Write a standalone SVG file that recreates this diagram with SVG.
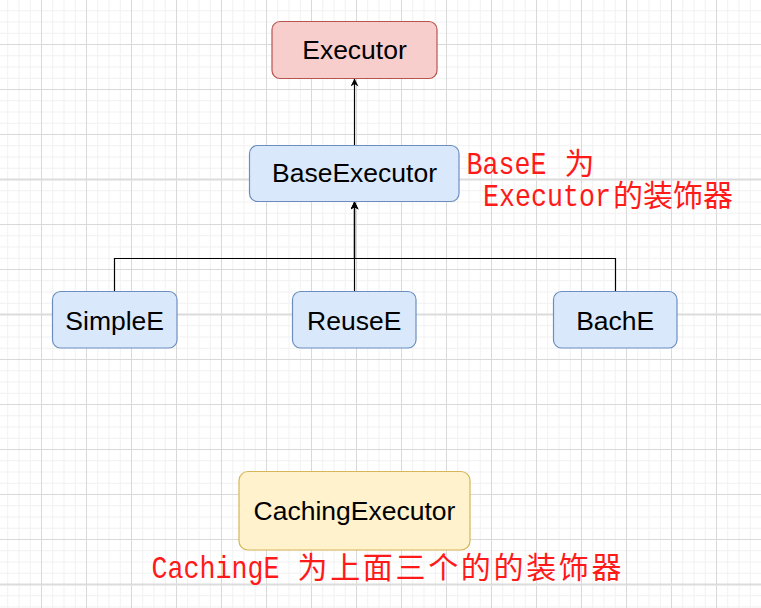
<svg xmlns="http://www.w3.org/2000/svg" width="761" height="608" viewBox="0 0 761 608">
  <style>
    .node rect { stroke-width: 1.2; }
    .blue { fill: #dae8fc; stroke: #6c8ebf; }
    .pink { fill: #f8cecc; stroke: #b85450; }
    .yellow { fill: #fff2cc; stroke: #d6b656; }
    .lbl { font-family: "Liberation Sans", Arial, sans-serif; font-size: 26.5px; fill: #000; text-anchor: middle; }
    .note { fill: #ff1a1a; }
    .mono { font-family: "Liberation Mono", "Courier New", monospace; font-size: 31px; }
    .cjk { font-family: "Noto Sans CJK SC", sans-serif; font-size: 30px; }
    .edge { fill: none; stroke: #000; stroke-width: 1.2; }
  </style>
  <defs>
    <pattern id="grid" patternUnits="userSpaceOnUse" x="41" y="44" width="45" height="45">
      <path d="M11.75 0V45M23 0V45M34.25 0V45M0 11.75H45M0 23H45M0 34.25H45" stroke="#f1f1f1" stroke-width="1" fill="none"/>
      <path d="M0.5 0V45M0 0.5H45" stroke="#d9d9d9" stroke-width="1" fill="none"/>
    </pattern>
    <marker id="arrow" viewBox="0 0 10 10" refX="10" refY="5" markerWidth="10" markerHeight="8" markerUnits="userSpaceOnUse" orient="auto">
      <path d="M10 5L0 0L3 5L0 10z" fill="#000"/>
    </marker>
  </defs>
  <rect width="761" height="608" fill="#fff"/>
  <rect width="761" height="608" fill="url(#grid)"/>
  <path d="M0 179.5H761M0 314.5H761M0 584.5H761" stroke="#dcdcdc" stroke-width="2" fill="none"/>

  <g id="connectors">
    <path class="edge" d="M354.5 145.5V78.5" marker-end="url(#arrow)"/>
    <path class="edge" d="M114.5 291.5V258.5H354.5V201.5" marker-end="url(#arrow)"/>
    <path class="edge" d="M354.5 291.5V201.5" marker-end="url(#arrow)"/>
    <path class="edge" d="M615.5 291.5V258.5H354.5V201.5" marker-end="url(#arrow)"/>
  </g>

  <g id="executor" class="node">
    <rect class="pink" x="272" y="21.5" width="165" height="57" rx="8"/>
    <text class="lbl" x="354.5" y="58.5">Executor</text>
  </g>
  <g id="base-executor" class="node">
    <rect class="blue" x="249.5" y="145.5" width="209.5" height="56" rx="8"/>
    <text class="lbl" x="354.5" y="182">BaseExecutor</text>
  </g>
  <g id="simple-e" class="node">
    <rect class="blue" x="52.5" y="291.5" width="124.5" height="56.5" rx="8"/>
    <text class="lbl" x="114.7" y="329.5">SimpleE</text>
  </g>
  <g id="reuse-e" class="node">
    <rect class="blue" x="292.5" y="291.5" width="123.5" height="56.5" rx="8"/>
    <text class="lbl" x="354.2" y="329.5">ReuseE</text>
  </g>
  <g id="bach-e" class="node">
    <rect class="blue" x="553.5" y="291.5" width="123.5" height="56.5" rx="8"/>
    <text class="lbl" x="615.2" y="329.5">BachE</text>
  </g>
  <g id="caching-executor" class="node">
    <rect class="yellow" x="239" y="471.5" width="231" height="78.5" rx="9"/>
    <text class="lbl" x="354.5" y="519.5">CachingExecutor</text>
  </g>

  <g id="notes" class="note">
    <text class="mono" transform="translate(466.5 173.5) scale(0.86 1)">BaseE</text>
    <text class="cjk" x="564.5" y="173.5">为</text>
    <text class="mono" transform="translate(483 206) scale(0.86 1)">Executor</text>
    <text class="cjk" x="613" y="206">的装饰器</text>
    <text class="mono" transform="translate(151.5 578) scale(0.86 1)">CachingE</text>
    <text class="cjk" x="297.5" y="578" textLength="324" lengthAdjust="spacing">为上面三个的的装饰器</text>
  </g>
</svg>
